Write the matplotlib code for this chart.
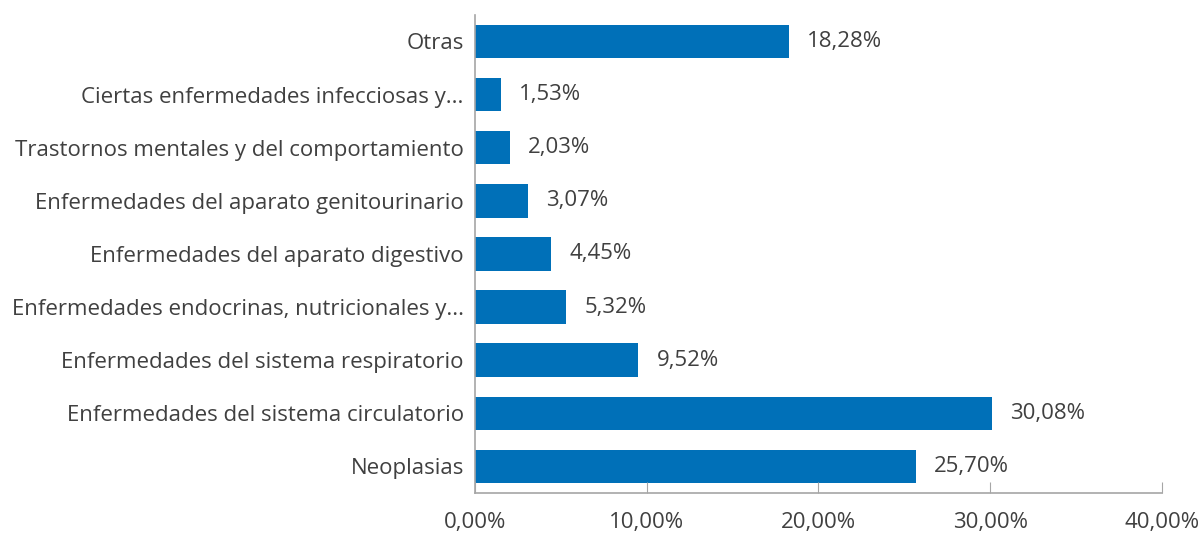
import matplotlib
matplotlib.use('Agg')
import matplotlib.pyplot as plt

categorias = ['Neoplasias',
              'Enfermedades del sistema circulatorio',
              'Enfermedades del sistema respiratorio',
              'Enfermedades endocrinas, nutricionales y...',
              'Enfermedades del aparato digestivo',
              'Enfermedades del aparato genitourinario',
              'Trastornos mentales y del comportamiento',
              'Ciertas enfermedades infecciosas y...',
              'Otras']
valores = [25.70, 30.08, 9.52, 5.32, 4.45, 3.07, 2.03, 1.53, 18.28]
ticks_x = [0, 10, 20, 30, 40]

plt.rcParams['font.family'] = ['Open Sans', 'DejaVu Sans']
texto = '#404040'
gris = '#a6a6a6'

fig = plt.figure(figsize=(12.04, 5.33), dpi=100)
ax = fig.add_axes([0.3945, 0.075, 0.5705, 0.897])

y = range(len(categorias))
ax.barh(y, valores, height=0.63, color='#0070b8')
for i, v in enumerate(valores):
    ax.annotate(f'{v:.2f}%'.replace('.', ','), (v, i), xytext=(13, 0),
                textcoords='offset points', va='center', ha='left',
                fontsize=16, color=texto)

ax.set_xlim(0, 40)
ax.set_ylim(-0.5, 8.5)
ax.set_yticks(list(y))
ax.set_yticklabels(categorias, fontsize=16, color=texto)
ax.set_xticks(ticks_x)
ax.set_xticklabels([f'{t:.2f}%'.replace('.', ',') for t in ticks_x], fontsize=16, color=texto)
ax.tick_params(axis='y', length=0, pad=8)
ax.tick_params(axis='x', direction='in', length=8, color=gris, pad=14)
for s in ['top', 'right']:
    ax.spines[s].set_visible(False)
for s in ['left', 'bottom']:
    ax.spines[s].set_color(gris)
    ax.spines[s].set_linewidth(1.2)

fig.savefig('out.png', dpi=100)
